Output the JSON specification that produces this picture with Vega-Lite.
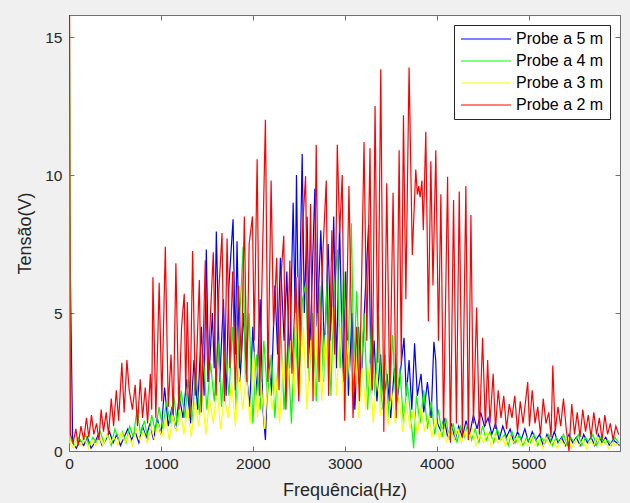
{
  "$schema": "https://vega.github.io/schema/vega-lite/v6.json",
  "width": 551,
  "height": 436,
  "autosize": {"type": "none"},
  "padding": {"left": 69, "top": 15, "right": 10, "bottom": 52},
  "background": "#f0f0f0",
  "config": {
    "view": {"fill": "white", "stroke": "#707070", "strokeWidth": 1},
    "font": "Liberation Sans"
  },
  "datasets": {
    "b": [
      {"f":0,"v":9},{"f":4,"v":9},{"f":40,"v":0.3},{"f":80,"v":0.1},{"f":120,"v":0.4},{"f":160,"v":0.2},{"f":200,"v":0.5},{"f":240,"v":0.1},{"f":280,"v":0.3},{"f":320,"v":0.6},{"f":360,"v":0.2},{"f":400,"v":0.4},{"f":440,"v":0.7},{"f":480,"v":0.3},{"f":520,"v":0.6},{"f":560,"v":0.2},{"f":600,"v":0.5},{"f":640,"v":0.8},{"f":680,"v":0.4},{"f":720,"v":0.7},{"f":760,"v":0.3},{"f":800,"v":0.9},{"f":840,"v":0.5},{"f":880,"v":1.0},{"f":920,"v":0.4},{"f":960,"v":1.2},{"f":1000,"v":0.6},{"f":1040,"v":2.3},{"f":1080,"v":0.9},{"f":1120,"v":1.6},{"f":1160,"v":0.8},{"f":1200,"v":2.0},{"f":1240,"v":1.2},{"f":1280,"v":2.6},{"f":1320,"v":1.0},{"f":1360,"v":3.3},{"f":1400,"v":1.5},{"f":1440,"v":4.5},{"f":1470,"v":2.0},{"f":1494,"v":7.3},{"f":1520,"v":2.5},{"f":1560,"v":5.0},{"f":1580,"v":3.0},{"f":1603,"v":7.95},{"f":1640,"v":2.5},{"f":1680,"v":5.5},{"f":1710,"v":2.0},{"f":1740,"v":6.0},{"f":1785,"v":8.4},{"f":1810,"v":3.5},{"f":1828,"v":7.6},{"f":1860,"v":2.5},{"f":1900,"v":5.0},{"f":1930,"v":2.8},{"f":1966,"v":1.6},{"f":2000,"v":4.5},{"f":2040,"v":2.0},{"f":2080,"v":5.5},{"f":2110,"v":1.5},{"f":2137,"v":0.4},{"f":2170,"v":3.5},{"f":2200,"v":2.0},{"f":2240,"v":6.0},{"f":2270,"v":3.5},{"f":2300,"v":7.0},{"f":2340,"v":4.0},{"f":2370,"v":6.5},{"f":2400,"v":3.0},{"f":2439,"v":9.0},{"f":2460,"v":5.0},{"f":2475,"v":10.0},{"f":2500,"v":4.0},{"f":2537,"v":10.76},{"f":2560,"v":5.0},{"f":2590,"v":8.5},{"f":2620,"v":3.5},{"f":2675,"v":9.5},{"f":2700,"v":4.5},{"f":2740,"v":8.0},{"f":2780,"v":3.5},{"f":2820,"v":7.5},{"f":2850,"v":4.0},{"f":2880,"v":8.5},{"f":2910,"v":3.0},{"f":2944,"v":8.25},{"f":2980,"v":2.5},{"f":3010,"v":6.5},{"f":3040,"v":2.0},{"f":3080,"v":5.0},{"f":3110,"v":1.5},{"f":3150,"v":4.5},{"f":3180,"v":2.5},{"f":3220,"v":5.5},{"f":3260,"v":8.2},{"f":3290,"v":2.0},{"f":3320,"v":4.0},{"f":3350,"v":1.8},{"f":3390,"v":3.5},{"f":3420,"v":1.5},{"f":3460,"v":2.8},{"f":3500,"v":1.2},{"f":3540,"v":3.0},{"f":3570,"v":1.8},{"f":3610,"v":3.0},{"f":3645,"v":4.1},{"f":3670,"v":2.0},{"f":3700,"v":3.3},{"f":3730,"v":1.5},{"f":3760,"v":3.9},{"f":3790,"v":2.0},{"f":3830,"v":2.8},{"f":3860,"v":1.4},{"f":3900,"v":2.5},{"f":3940,"v":1.2},{"f":3970,"v":3.96},{"f":3990,"v":3.3},{"f":4010,"v":1.0},{"f":4050,"v":0.7},{"f":4080,"v":1.2},{"f":4120,"v":0.5},{"f":4160,"v":1.0},{"f":4200,"v":0.4},{"f":4240,"v":0.9},{"f":4280,"v":0.5},{"f":4320,"v":1.1},{"f":4360,"v":0.6},{"f":4400,"v":1.3},{"f":4440,"v":0.8},{"f":4480,"v":1.4},{"f":4520,"v":0.9},{"f":4560,"v":1.2},{"f":4600,"v":0.6},{"f":4640,"v":1.0},{"f":4680,"v":0.4},{"f":4720,"v":0.9},{"f":4760,"v":0.5},{"f":4800,"v":0.8},{"f":4840,"v":0.3},{"f":4880,"v":0.7},{"f":4920,"v":0.4},{"f":4960,"v":0.8},{"f":5000,"v":0.3},{"f":5040,"v":0.7},{"f":5080,"v":0.4},{"f":5120,"v":0.6},{"f":5160,"v":0.2},{"f":5200,"v":0.6},{"f":5240,"v":0.3},{"f":5280,"v":0.7},{"f":5320,"v":0.3},{"f":5360,"v":0.5},{"f":5400,"v":0.2},{"f":5440,"v":0.6},{"f":5480,"v":0.3},{"f":5520,"v":0.5},{"f":5560,"v":0.2},{"f":5600,"v":0.6},{"f":5640,"v":0.3},{"f":5680,"v":0.5},{"f":5720,"v":0.2},{"f":5760,"v":0.6},{"f":5800,"v":0.3},{"f":5840,"v":0.5},{"f":5880,"v":0.2},{"f":5920,"v":0.4},{"f":5960,"v":0.3},{"f":5990,"v":0.2}
    ],
    "g": [
      {"f":0,"v":16.5},{"f":4,"v":16.5},{"f":20,"v":0.4},{"f":60,"v":0.2},{"f":100,"v":0.5},{"f":140,"v":0.3},{"f":180,"v":0.6},{"f":220,"v":0.2},{"f":260,"v":0.5},{"f":300,"v":0.3},{"f":340,"v":0.7},{"f":380,"v":0.3},{"f":420,"v":0.6},{"f":460,"v":0.2},{"f":500,"v":0.8},{"f":540,"v":0.4},{"f":580,"v":0.7},{"f":620,"v":0.3},{"f":660,"v":0.9},{"f":700,"v":0.5},{"f":740,"v":1.5},{"f":780,"v":0.6},{"f":820,"v":1.1},{"f":860,"v":0.4},{"f":900,"v":1.3},{"f":940,"v":0.7},{"f":980,"v":1.6},{"f":1020,"v":0.8},{"f":1060,"v":1.8},{"f":1100,"v":1.0},{"f":1140,"v":2.0},{"f":1180,"v":0.9},{"f":1220,"v":2.2},{"f":1260,"v":1.2},{"f":1300,"v":2.6},{"f":1340,"v":1.0},{"f":1380,"v":3.0},{"f":1420,"v":1.3},{"f":1460,"v":3.5},{"f":1500,"v":1.5},{"f":1540,"v":3.2},{"f":1580,"v":1.8},{"f":1620,"v":4.0},{"f":1660,"v":1.6},{"f":1700,"v":3.6},{"f":1740,"v":2.0},{"f":1780,"v":4.5},{"f":1820,"v":1.5},{"f":1860,"v":5.0},{"f":1894,"v":7.4},{"f":1920,"v":2.5},{"f":1960,"v":5.0},{"f":2000,"v":1.0},{"f":2040,"v":3.5},{"f":2080,"v":1.5},{"f":2120,"v":4.0},{"f":2160,"v":2.0},{"f":2200,"v":3.5},{"f":2240,"v":1.2},{"f":2300,"v":4.7},{"f":2340,"v":1.5},{"f":2380,"v":3.8},{"f":2420,"v":1.0},{"f":2460,"v":4.5},{"f":2500,"v":2.0},{"f":2540,"v":5.5},{"f":2578,"v":6.1},{"f":2610,"v":2.5},{"f":2650,"v":5.0},{"f":2690,"v":1.8},{"f":2730,"v":6.0},{"f":2770,"v":2.5},{"f":2810,"v":6.3},{"f":2850,"v":2.0},{"f":2880,"v":5.5},{"f":2920,"v":7.3},{"f":2950,"v":3.0},{"f":2990,"v":6.5},{"f":3030,"v":2.5},{"f":3072,"v":8.25},{"f":3100,"v":3.0},{"f":3130,"v":5.8},{"f":3170,"v":2.0},{"f":3210,"v":5.0},{"f":3250,"v":1.5},{"f":3290,"v":4.5},{"f":3330,"v":2.0},{"f":3370,"v":4.9},{"f":3400,"v":1.5},{"f":3440,"v":3.5},{"f":3480,"v":1.2},{"f":3520,"v":4.2},{"f":3560,"v":1.5},{"f":3600,"v":3.0},{"f":3640,"v":1.0},{"f":3680,"v":2.5},{"f":3720,"v":1.2},{"f":3750,"v":0.1},{"f":3780,"v":2.0},{"f":3820,"v":1.0},{"f":3860,"v":2.2},{"f":3900,"v":0.8},{"f":3940,"v":1.8},{"f":3980,"v":0.6},{"f":4020,"v":1.5},{"f":4060,"v":0.5},{"f":4100,"v":1.2},{"f":4140,"v":0.4},{"f":4180,"v":1.0},{"f":4220,"v":0.3},{"f":4260,"v":0.9},{"f":4300,"v":0.5},{"f":4340,"v":1.0},{"f":4380,"v":0.4},{"f":4420,"v":0.8},{"f":4460,"v":0.3},{"f":4500,"v":0.9},{"f":4540,"v":0.4},{"f":4580,"v":0.7},{"f":4620,"v":0.3},{"f":4660,"v":0.8},{"f":4700,"v":0.4},{"f":4740,"v":0.6},{"f":4780,"v":0.2},{"f":4820,"v":0.7},{"f":4860,"v":0.3},{"f":4900,"v":0.6},{"f":4940,"v":0.2},{"f":4980,"v":0.5},{"f":5020,"v":0.3},{"f":5060,"v":0.6},{"f":5100,"v":0.2},{"f":5140,"v":0.5},{"f":5180,"v":0.3},{"f":5220,"v":0.6},{"f":5260,"v":0.2},{"f":5300,"v":0.5},{"f":5340,"v":0.3},{"f":5380,"v":0.6},{"f":5420,"v":0.2},{"f":5460,"v":0.5},{"f":5500,"v":0.3},{"f":5540,"v":0.6},{"f":5580,"v":0.2},{"f":5620,"v":0.5},{"f":5660,"v":0.3},{"f":5700,"v":0.6},{"f":5740,"v":0.2},{"f":5780,"v":0.5},{"f":5820,"v":0.3},{"f":5860,"v":0.4},{"f":5900,"v":0.2},{"f":5940,"v":0.5},{"f":5980,"v":0.3}
    ],
    "y": [
      {"f":0,"v":15},{"f":4,"v":15},{"f":10,"v":0.3},{"f":50,"v":0.1},{"f":90,"v":0.4},{"f":130,"v":0.2},{"f":170,"v":0.5},{"f":210,"v":0.1},{"f":250,"v":0.4},{"f":290,"v":0.2},{"f":330,"v":0.5},{"f":370,"v":0.2},{"f":410,"v":0.6},{"f":450,"v":0.3},{"f":490,"v":0.5},{"f":530,"v":0.2},{"f":570,"v":0.7},{"f":610,"v":0.3},{"f":650,"v":0.6},{"f":690,"v":0.2},{"f":730,"v":0.8},{"f":770,"v":0.4},{"f":810,"v":0.7},{"f":850,"v":0.3},{"f":890,"v":0.9},{"f":930,"v":0.4},{"f":970,"v":1.0},{"f":1010,"v":0.5},{"f":1050,"v":1.2},{"f":1090,"v":0.4},{"f":1130,"v":1.3},{"f":1170,"v":0.7},{"f":1210,"v":1.5},{"f":1250,"v":0.6},{"f":1290,"v":1.6},{"f":1330,"v":0.5},{"f":1370,"v":1.8},{"f":1410,"v":0.9},{"f":1450,"v":2.0},{"f":1490,"v":0.6},{"f":1530,"v":1.9},{"f":1570,"v":1.0},{"f":1610,"v":2.3},{"f":1650,"v":0.8},{"f":1690,"v":2.0},{"f":1730,"v":1.2},{"f":1770,"v":2.5},{"f":1810,"v":0.9},{"f":1850,"v":3.0},{"f":1890,"v":1.5},{"f":1930,"v":2.8},{"f":1970,"v":1.0},{"f":2010,"v":3.6},{"f":2050,"v":1.2},{"f":2090,"v":2.5},{"f":2130,"v":0.8},{"f":2170,"v":3.0},{"f":2210,"v":1.5},{"f":2250,"v":2.7},{"f":2290,"v":1.0},{"f":2330,"v":3.3},{"f":2370,"v":1.8},{"f":2410,"v":4.0},{"f":2450,"v":2.0},{"f":2483,"v":6.3},{"f":2510,"v":2.0},{"f":2550,"v":4.5},{"f":2590,"v":1.5},{"f":2630,"v":4.0},{"f":2670,"v":2.0},{"f":2710,"v":5.0},{"f":2750,"v":1.8},{"f":2790,"v":4.2},{"f":2830,"v":2.2},{"f":2870,"v":5.2},{"f":2910,"v":2.0},{"f":2950,"v":4.5},{"f":2990,"v":1.5},{"f":3030,"v":4.0},{"f":3070,"v":2.0},{"f":3119,"v":3.7},{"f":3150,"v":1.2},{"f":3190,"v":3.0},{"f":3230,"v":1.5},{"f":3270,"v":3.2},{"f":3310,"v":1.0},{"f":3350,"v":2.8},{"f":3390,"v":1.3},{"f":3430,"v":2.5},{"f":3470,"v":0.9},{"f":3510,"v":2.2},{"f":3550,"v":1.0},{"f":3590,"v":2.0},{"f":3630,"v":0.7},{"f":3670,"v":1.8},{"f":3710,"v":0.8},{"f":3750,"v":1.5},{"f":3790,"v":0.6},{"f":3830,"v":1.6},{"f":3870,"v":0.7},{"f":3910,"v":1.3},{"f":3950,"v":0.5},{"f":3990,"v":1.2},{"f":4030,"v":0.4},{"f":4070,"v":1.0},{"f":4110,"v":0.3},{"f":4150,"v":0.9},{"f":4190,"v":0.4},{"f":4230,"v":0.8},{"f":4270,"v":0.3},{"f":4310,"v":0.7},{"f":4350,"v":0.4},{"f":4390,"v":0.8},{"f":4430,"v":0.2},{"f":4470,"v":0.6},{"f":4510,"v":0.3},{"f":4550,"v":0.7},{"f":4590,"v":0.2},{"f":4630,"v":0.6},{"f":4670,"v":0.3},{"f":4710,"v":0.5},{"f":4750,"v":0.2},{"f":4790,"v":0.6},{"f":4830,"v":0.3},{"f":4870,"v":0.5},{"f":4910,"v":0.2},{"f":4950,"v":0.4},{"f":4990,"v":0.2},{"f":5030,"v":0.5},{"f":5070,"v":0.2},{"f":5110,"v":0.4},{"f":5150,"v":0.1},{"f":5190,"v":0.5},{"f":5230,"v":0.2},{"f":5270,"v":0.4},{"f":5310,"v":0.1},{"f":5350,"v":0.4},{"f":5390,"v":0.2},{"f":5430,"v":0.5},{"f":5470,"v":0.1},{"f":5510,"v":0.4},{"f":5550,"v":0.2},{"f":5590,"v":0.4},{"f":5630,"v":0.1},{"f":5670,"v":0.4},{"f":5710,"v":0.2},{"f":5750,"v":0.5},{"f":5790,"v":0.2},{"f":5830,"v":0.4},{"f":5870,"v":0.1},{"f":5910,"v":0.3},{"f":5950,"v":0.2},{"f":5990,"v":0.3}
    ],
    "r": [
      {"f":0,"v":16},{"f":6,"v":16},{"f":15,"v":0.6},{"f":45,"v":0.3},{"f":75,"v":0.8},{"f":100,"v":0.2},{"f":130,"v":0.9},{"f":160,"v":0.4},{"f":190,"v":1.2},{"f":215,"v":0.5},{"f":245,"v":1.3},{"f":270,"v":0.6},{"f":300,"v":1.0},{"f":325,"v":0.4},{"f":350,"v":1.5},{"f":375,"v":0.7},{"f":405,"v":1.4},{"f":430,"v":0.6},{"f":460,"v":1.9},{"f":485,"v":0.9},{"f":515,"v":2.2},{"f":540,"v":1.1},{"f":575,"v":3.2},{"f":600,"v":1.4},{"f":630,"v":3.3},{"f":655,"v":2.2},{"f":690,"v":1.5},{"f":720,"v":2.4},{"f":745,"v":0.9},{"f":775,"v":2.6},{"f":800,"v":1.2},{"f":830,"v":2.3},{"f":855,"v":1.0},{"f":885,"v":2.8},{"f":900,"v":1.5},{"f":913,"v":6.3},{"f":945,"v":1.2},{"f":981,"v":6.1},{"f":1010,"v":1.8},{"f":1048,"v":7.4},{"f":1080,"v":1.6},{"f":1110,"v":3.5},{"f":1135,"v":1.3},{"f":1163,"v":6.8},{"f":1195,"v":1.5},{"f":1225,"v":4.5},{"f":1254,"v":5.7},{"f":1270,"v":2.0},{"f":1287,"v":5.4},{"f":1315,"v":1.2},{"f":1345,"v":7.25},{"f":1375,"v":2.0},{"f":1418,"v":6.2},{"f":1440,"v":1.4},{"f":1483,"v":6.9},{"f":1510,"v":2.5},{"f":1540,"v":5.0},{"f":1570,"v":7.2},{"f":1600,"v":2.0},{"f":1630,"v":5.8},{"f":1665,"v":7.9},{"f":1690,"v":1.8},{"f":1720,"v":7.7},{"f":1750,"v":3.0},{"f":1780,"v":6.5},{"f":1810,"v":2.2},{"f":1845,"v":6.0},{"f":1875,"v":3.2},{"f":1908,"v":8.5},{"f":1935,"v":2.5},{"f":1960,"v":7.5},{"f":1996,"v":8.5},{"f":2015,"v":4.0},{"f":2047,"v":10.57},{"f":2075,"v":2.0},{"f":2105,"v":7.0},{"f":2137,"v":12.0},{"f":2165,"v":2.5},{"f":2199,"v":9.8},{"f":2225,"v":4.5},{"f":2260,"v":7.0},{"f":2285,"v":2.2},{"f":2310,"v":6.5},{"f":2337,"v":7.8},{"f":2360,"v":1.5},{"f":2403,"v":6.9},{"f":2425,"v":2.8},{"f":2470,"v":6.3},{"f":2500,"v":1.8},{"f":2540,"v":8.0},{"f":2574,"v":9.96},{"f":2600,"v":3.0},{"f":2628,"v":8.95},{"f":2655,"v":1.8},{"f":2690,"v":11.1},{"f":2720,"v":2.5},{"f":2760,"v":7.0},{"f":2799,"v":9.8},{"f":2825,"v":2.0},{"f":2860,"v":8.0},{"f":2890,"v":3.5},{"f":2919,"v":11.1},{"f":2945,"v":7.9},{"f":2973,"v":10.0},{"f":3000,"v":1.1},{"f":3046,"v":9.6},{"f":3090,"v":1.2},{"f":3130,"v":4.5},{"f":3160,"v":1.8},{"f":3210,"v":11.2},{"f":3240,"v":4.0},{"f":3275,"v":10.97},{"f":3300,"v":2.2},{"f":3330,"v":12.5},{"f":3360,"v":3.2},{"f":3392,"v":13.83},{"f":3425,"v":0.7},{"f":3457,"v":9.7},{"f":3490,"v":1.8},{"f":3526,"v":9.36},{"f":3560,"v":1.2},{"f":3592,"v":10.9},{"f":3615,"v":3.2},{"f":3639,"v":12.17},{"f":3665,"v":5.5},{"f":3700,"v":13.9},{"f":3735,"v":7.1},{"f":3773,"v":10.2},{"f":3790,"v":9.3},{"f":3805,"v":9.6},{"f":3820,"v":9.2},{"f":3840,"v":9.8},{"f":3855,"v":8.0},{"f":3882,"v":11.57},{"f":3910,"v":4.7},{"f":3937,"v":10.5},{"f":3960,"v":6.0},{"f":3991,"v":10.9},{"f":4020,"v":4.0},{"f":4046,"v":9.3},{"f":4075,"v":0.8},{"f":4119,"v":9.94},{"f":4150,"v":0.3},{"f":4184,"v":9.1},{"f":4215,"v":1.0},{"f":4246,"v":9.4},{"f":4280,"v":0.5},{"f":4318,"v":9.6},{"f":4345,"v":0.4},{"f":4373,"v":8.55},{"f":4400,"v":1.0},{"f":4435,"v":5.2},{"f":4465,"v":0.6},{"f":4500,"v":4.1},{"f":4530,"v":0.9},{"f":4555,"v":3.3},{"f":4580,"v":1.0},{"f":4615,"v":2.8},{"f":4640,"v":0.8},{"f":4670,"v":2.2},{"f":4700,"v":1.2},{"f":4730,"v":2.0},{"f":4760,"v":0.8},{"f":4790,"v":1.7},{"f":4820,"v":1.2},{"f":4850,"v":2.0},{"f":4880,"v":0.7},{"f":4910,"v":1.8},{"f":4940,"v":1.0},{"f":4991,"v":2.5},{"f":5010,"v":0.9},{"f":5040,"v":2.2},{"f":5070,"v":1.0},{"f":5100,"v":1.6},{"f":5130,"v":0.6},{"f":5160,"v":1.9},{"f":5190,"v":1.0},{"f":5220,"v":1.4},{"f":5245,"v":0.5},{"f":5264,"v":3.1},{"f":5290,"v":0.7},{"f":5320,"v":1.6},{"f":5350,"v":0.9},{"f":5380,"v":1.9},{"f":5410,"v":0.8},{"f":5440,"v":0.0},{"f":5470,"v":1.7},{"f":5500,"v":0.6},{"f":5530,"v":1.4},{"f":5560,"v":0.5},{"f":5590,"v":1.5},{"f":5620,"v":0.7},{"f":5650,"v":1.3},{"f":5680,"v":0.5},{"f":5710,"v":1.4},{"f":5740,"v":0.6},{"f":5770,"v":1.2},{"f":5800,"v":0.4},{"f":5830,"v":1.3},{"f":5860,"v":0.6},{"f":5890,"v":1.0},{"f":5920,"v":0.4},{"f":5950,"v":0.9},{"f":5980,"v":0.6}
    ]
  },
  "resolve": {"axis": {"x": "independent", "y": "independent"}},
  "layer": [
    {
      "data": {"name": "b"},
      "mark": {"type": "line", "strokeWidth": 1.2, "clip": true},
      "encoding": {
        "x": {"field": "f", "type": "quantitative", "scale": {"domain": [0, 5995], "nice": false, "zero": false},
          "axis": {"title": "Frequência(Hz)", "values": [0, 1000, 2000, 3000, 4000, 5000], "format": "d", "grid": false, "labelFlush": false,
            "tickSize": -5, "labelPadding": 10, "domain": true, "domainColor": "#707070", "tickColor": "#707070",
            "labelColor": "#262626", "labelFont": "Liberation Sans", "labelFontSize": 15.5,
            "titleFont": "Liberation Sans", "titleFontSize": 18, "titleFontWeight": "normal", "titleColor": "#262626", "titlePadding": 10}},
        "y": {"field": "v", "type": "quantitative", "scale": {"domain": [0, 15.8], "nice": false, "zero": false},
          "axis": {"title": "Tensão(V)", "values": [0, 5, 10, 15], "grid": false,
            "tickSize": -5, "labelPadding": 12, "domain": true, "domainColor": "#707070", "tickColor": "#707070",
            "labelColor": "#262626", "labelFont": "Liberation Sans", "labelFontSize": 15.5,
            "titleFont": "Liberation Sans", "titleFontSize": 18, "titleFontWeight": "normal", "titleColor": "#262626", "titlePadding": 10}},
        "color": {"datum": "Probe a 5 m", "type": "nominal",
          "scale": {"domain": ["Probe a 5 m", "Probe a 4 m", "Probe a 3 m", "Probe a 2 m"], "range": ["#0000ff", "#00ff00", "#ffff00", "#ff0000"]},
          "legend": {"orient": "top-right", "offset": 10, "title": null, "fillColor": "white", "strokeColor": "#262626", "padding": 6,
            "symbolType": "stroke", "symbolSize": 2500, "symbolStrokeWidth": 1.2, "clipHeight": 16, "rowPadding": 6,
            "labelFont": "Liberation Sans", "labelFontSize": 16, "labelColor": "#000000", "labelOffset": 4, "cornerRadius": 0}}
      }
    },
    {
      "data": {"name": "g"},
      "mark": {"type": "line", "strokeWidth": 1.2, "clip": true},
      "encoding": {
        "x": {"field": "f", "type": "quantitative", "scale": {"domain": [0, 5995], "nice": false, "zero": false}, "axis": null},
        "y": {"field": "v", "type": "quantitative", "scale": {"domain": [0, 15.8], "nice": false, "zero": false}, "axis": null},
        "color": {"datum": "Probe a 4 m", "type": "nominal"}
      }
    },
    {
      "data": {"name": "y"},
      "mark": {"type": "line", "strokeWidth": 1.2, "clip": true},
      "encoding": {
        "x": {"field": "f", "type": "quantitative", "scale": {"domain": [0, 5995], "nice": false, "zero": false}, "axis": null},
        "y": {"field": "v", "type": "quantitative", "scale": {"domain": [0, 15.8], "nice": false, "zero": false}, "axis": null},
        "color": {"datum": "Probe a 3 m", "type": "nominal"}
      }
    },
    {
      "data": {"name": "r"},
      "mark": {"type": "line", "strokeWidth": 1.2, "clip": true},
      "encoding": {
        "x": {"field": "f", "type": "quantitative", "scale": {"domain": [0, 5995], "nice": false, "zero": false}, "axis": null},
        "y": {"field": "v", "type": "quantitative", "scale": {"domain": [0, 15.8], "nice": false, "zero": false}, "axis": null},
        "color": {"datum": "Probe a 2 m", "type": "nominal"}
      }
    },
    {
      "data": {"name": "r"},
      "mark": {"type": "line", "opacity": 0, "clip": true},
      "encoding": {
        "x": {"field": "f", "type": "quantitative", "scale": {"domain": [0, 5995], "nice": false, "zero": false},
          "axis": {"orient": "top", "title": null, "labels": false, "values": [0, 1000, 2000, 3000, 4000, 5000], "grid": false, "tickSize": -5, "domainColor": "#707070", "tickColor": "#707070"}},
        "y": {"field": "v", "type": "quantitative", "scale": {"domain": [0, 15.8], "nice": false, "zero": false},
          "axis": {"orient": "right", "title": null, "labels": false, "values": [0, 5, 10, 15], "grid": false, "tickSize": -5, "domainColor": "#707070", "tickColor": "#707070"}}
      }
    }
  ]
}
